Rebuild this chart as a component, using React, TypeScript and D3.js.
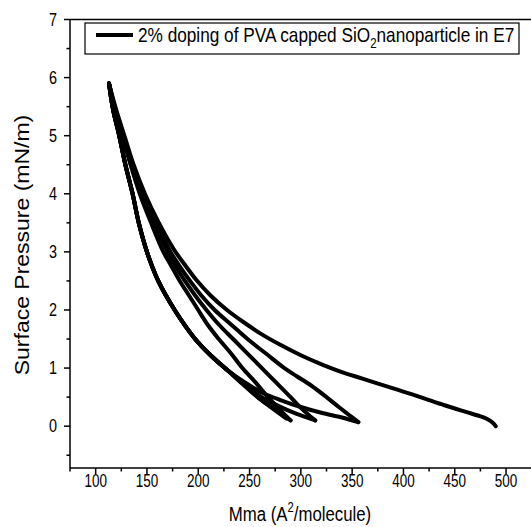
import React from "react";
import * as d3 from "d3";

// ---- data (Mma in A^2/molecule, surface pressure in mN/m) ----
const xTickValues = [100, 150, 200, 250, 300, 350, 400, 450, 500];
const yTickValues = [0, 1, 2, 3, 4, 5, 6, 7];
const xMinorTicks = [75, 125, 175, 225, 275, 325, 375, 425, 475, 525];
const yMinorTicks = [-0.5, 0.5, 1.5, 2.5, 3.5, 4.5, 5.5, 6.5];

const compression1: [number, number][] = [
  [490, 0.0], [487, 0.06], [482, 0.12], [475, 0.17], [460, 0.25], [440, 0.36],
  [415, 0.51], [390, 0.65], [360, 0.82], [340, 0.93], [322, 1.05], [300, 1.22],
  [280, 1.4], [262, 1.58], [245, 1.78], [228, 2.0], [212, 2.25], [198, 2.52],
  [186, 2.8], [176, 3.05], [161, 3.52], [148, 4.0], [137, 4.5], [128, 5.0],
  [120, 5.45], [113, 5.9],
];
const compression2: [number, number][] = [
  [356, 0.07], [348, 0.18], [337, 0.33], [325, 0.5], [310, 0.7], [296, 0.86],
  [284, 1.0], [266, 1.25], [248, 1.5], [232, 1.75], [216, 2.0], [203, 2.25],
  [192, 2.5], [182, 2.75], [173, 3.0], [159, 3.5], [147, 4.0], [136, 4.5],
  [127, 5.0], [119, 5.45], [113, 5.9],
];
const compression3: [number, number][] = [
  [314, 0.1], [306, 0.22], [298, 0.35], [290, 0.5], [276, 0.75], [262, 1.0],
  [248, 1.25], [234, 1.5], [220, 1.75], [208, 2.0], [197, 2.25], [187, 2.5],
  [178, 2.75], [170, 3.0], [157, 3.5], [145, 4.0], [135, 4.5], [126, 5.0],
  [119, 5.45], [113, 5.9],
];
const compression4: [number, number][] = [
  [290, 0.1], [283, 0.22], [276, 0.35], [268, 0.5], [256, 0.75], [243, 1.0],
  [232, 1.25], [220, 1.5], [209, 1.75], [200, 2.0], [191, 2.25], [182, 2.5],
  [174, 2.75], [166, 3.0], [154, 3.5], [143, 4.0], [134, 4.5], [126, 5.0],
  [119, 5.45], [113, 5.9],
];
const expansionShared: [number, number][] = [
  [113, 5.9], [117, 5.45], [123, 5.0], [129, 4.5], [136, 4.0], [142, 3.5],
  [150, 3.0], [161, 2.5], [177, 2.0], [197, 1.5], [212, 1.22], [228, 0.97],
];
const expansion1Tail: [number, number][] = [
  [244, 0.77], [262, 0.58], [280, 0.45], [300, 0.33], [320, 0.23], [340, 0.15], [356, 0.07],
];
const expansion2Tail: [number, number][] = [
  [244, 0.74], [260, 0.52], [278, 0.35], [296, 0.21], [314, 0.1],
];
const expansion3Tail: [number, number][] = [
  [244, 0.72], [260, 0.47], [275, 0.29], [290, 0.1],
];
const expansion4Tail: [number, number][] = [
  [243, 0.73], [258, 0.5], [272, 0.31], [286, 0.13],
];

const FONT = "'Liberation Sans', Arial, sans-serif";

export default function App() {
  const x = d3.scaleLinear().domain([75, 525]).range([70, 531.7]);
  const y = d3.scaleLinear().domain([-0.72, 7]).range([468, 19.5]);
  const line = d3
    .line<[number, number]>()
    .x((d) => x(d[0]))
    .y((d) => y(d[1]))
    .curve(d3.curveCatmullRom.alpha(0.5));

  const segments = [
    compression1,
    expansionShared.concat(expansion1Tail),
    compression2,
    expansionShared.concat(expansion2Tail),
    compression3,
    expansionShared.concat(expansion3Tail),
    compression4,
    expansionShared.concat(expansion4Tail),
  ];

  const left = x(75);
  const bottom = y(-0.72);
  const top = y(7);
  const right = 531;

  return (
    <svg
      width={531}
      height={527}
      style={{ position: "absolute", left: 0, top: 0, display: "block", background: "#fff" }}
      fontFamily={FONT}
    >
      <rect x={0} y={0} width={531} height={527} fill="#fff" />
      {/* data */}
      <g fill="none" stroke="#000" strokeWidth={4} strokeLinejoin="round" strokeLinecap="round">
        {segments.map((s, i) => (
          <path key={i} d={line(s) || ""} />
        ))}
      </g>
      {/* frame */}
      <g stroke="#000" strokeWidth={1.5} fill="none">
        <line x1={left} y1={top} x2={left} y2={bottom} />
        <line x1={left} y1={bottom} x2={right} y2={bottom} />
        <line x1={left} y1={top} x2={right} y2={top} />
        {xTickValues.map((v) => (
          <line key={"xt" + v} x1={x(v)} x2={x(v)} y1={bottom} y2={bottom + 6} />
        ))}
        {xMinorTicks.map((v) => (
          <line key={"xm" + v} x1={x(v)} x2={x(v)} y1={bottom} y2={bottom + 3.5} />
        ))}
        {yTickValues.map((v) => (
          <line key={"yt" + v} x1={left - 6} x2={left} y1={y(v)} y2={y(v)} />
        ))}
        {yMinorTicks.map((v) => (
          <line key={"ym" + v} x1={left - 3.5} x2={left} y1={y(v)} y2={y(v)} />
        ))}
      </g>
      {/* tick labels */}
      <g fill="#000" fontSize={18}>
        {xTickValues.map((v) => (
          <text key={"xl" + v} transform={`translate(${x(v)},487) scale(0.75,1)`} textAnchor="middle">
            {v}
          </text>
        ))}
        {yTickValues.map((v) => (
          <text key={"yl" + v} transform={`translate(57,${y(v) + 6}) scale(0.8,1)`} textAnchor="end">
            {v}
          </text>
        ))}
      </g>
      {/* axis titles */}
      <text transform="translate(300,521) scale(0.8,1)" textAnchor="middle" fontSize={21} fill="#000">
        Mma (A
        <tspan fontSize={14} dy={-9}>2</tspan>
        <tspan dy={9}>/molecule)</tspan>
      </text>
      <text transform="translate(29,245) scale(0.85,1) rotate(-90)" textAnchor="middle" fontSize={23} fill="#000">
        Surface Pressure (mN/m)
      </text>
      {/* legend */}
      <rect x={85} y={23} width={434} height={31} fill="#fff" stroke="#000" strokeWidth={1.2} />
      <line x1={96} x2={133} y1={35} y2={35} stroke="#000" strokeWidth={4} />
      <text transform="translate(138,42) scale(0.82,1)" fontSize={21} fill="#000">
        2% doping of PVA capped SiO
        <tspan fontSize={14} dy={6}>2</tspan>
        <tspan dy={-6}>nanoparticle in E7</tspan>
      </text>
    </svg>
  );
}
